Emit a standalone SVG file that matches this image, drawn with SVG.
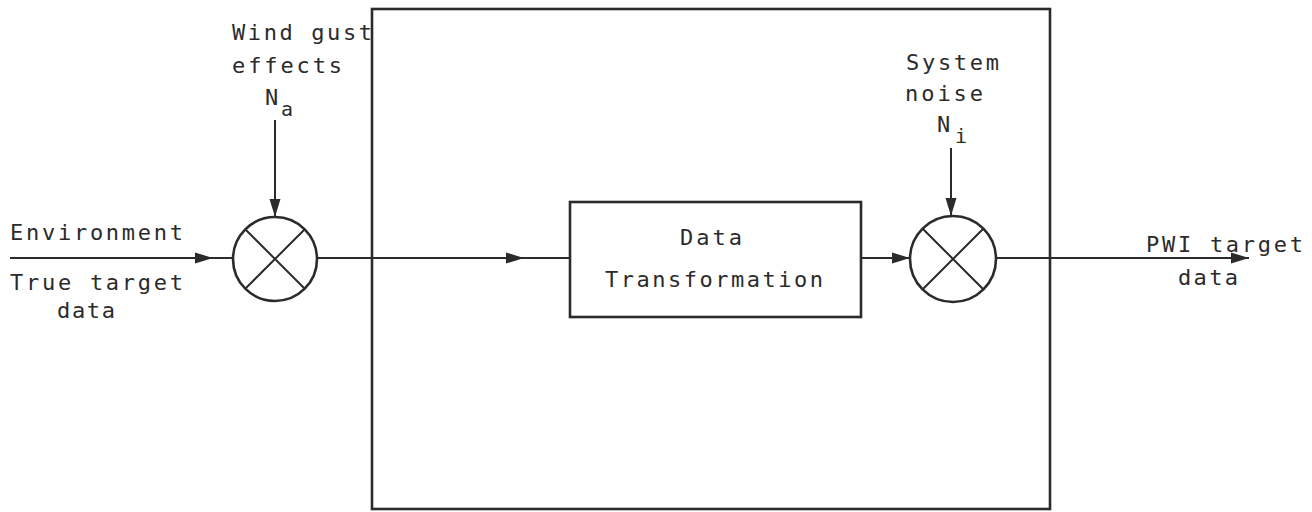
<svg xmlns="http://www.w3.org/2000/svg" width="1312" height="512" viewBox="0 0 1312 512">
<style>
.ln{stroke:#2b2b2b;stroke-width:2;fill:none}
.bx{stroke:#2b2b2b;stroke-width:2.6;fill:none}
.t{font-family:"DejaVu Sans Mono","Liberation Mono",monospace;font-size:22px;fill:#2b2b2b}
.s{font-family:"DejaVu Sans Mono","Liberation Mono",monospace;font-size:20px;fill:#2b2b2b}
</style>
<defs>
<marker id="ah" markerUnits="userSpaceOnUse" markerWidth="20" markerHeight="14" refX="18" refY="7" orient="auto">
<path d="M0,1.5 L18,7 L0,12.5 Z" fill="#2b2b2b"/>
</marker>
</defs>
<rect width="1312" height="512" fill="#ffffff"/>
<g id="system-box"><rect class="bx" x="372" y="9" width="678" height="500"/></g>
<g id="transform"><rect class="bx" x="570" y="202" width="291" height="115"/>
<text class="t" x="680" y="245" textLength="62">Data</text>
<text class="t" x="605" y="287" textLength="218">Transformation</text></g>
<g id="sum-wind"><circle class="bx" cx="275" cy="259" r="42"/>
<path class="ln" d="M245,229 L305,289 M305,229 L245,289"/></g>
<g id="sum-noise"><circle class="bx" cx="953" cy="259" r="43"/>
<path class="ln" d="M923,229 L983,289 M983,229 L923,289"/></g>
<g id="labels">
<text class="t" x="232" y="40" textLength="140">Wind gust</text>
<text class="t" x="232" y="73" textLength="110">effects</text>
<text class="t" x="265" y="105">N</text><text class="s" x="281" y="116">a</text>
<text class="t" x="10" y="240" textLength="173">Environment</text>
<text class="t" x="10" y="290" textLength="173">True target</text>
<text class="t" x="57" y="318" textLength="58">data</text>
<text class="t" x="906" y="70" textLength="93">System</text>
<text class="t" x="905" y="101" textLength="78">noise</text>
<text class="t" x="937" y="132">N</text><text class="s" x="955" y="143">i</text>
<text class="t" x="1146" y="252" textLength="157">PWI target</text>
<text class="t" x="1178" y="285" textLength="60">data</text>
</g>
<g id="connectors">
<line class="ln" x1="10" y1="258" x2="213" y2="258" marker-end="url(#ah)"/>
<line class="ln" x1="210" y1="258" x2="233" y2="258"/>
<line class="ln" x1="275" y1="120" x2="275" y2="217" marker-end="url(#ah)"/>
<line class="ln" x1="317" y1="258" x2="524" y2="258" marker-end="url(#ah)"/>
<line class="ln" x1="520" y1="258" x2="570" y2="258"/>
<line class="ln" x1="861" y1="258" x2="910" y2="258" marker-end="url(#ah)"/>
<line class="ln" x1="951" y1="148" x2="951" y2="216" marker-end="url(#ah)"/>
<line class="ln" x1="996" y1="258" x2="1249" y2="258" marker-end="url(#ah)"/>
</g>
</svg>
